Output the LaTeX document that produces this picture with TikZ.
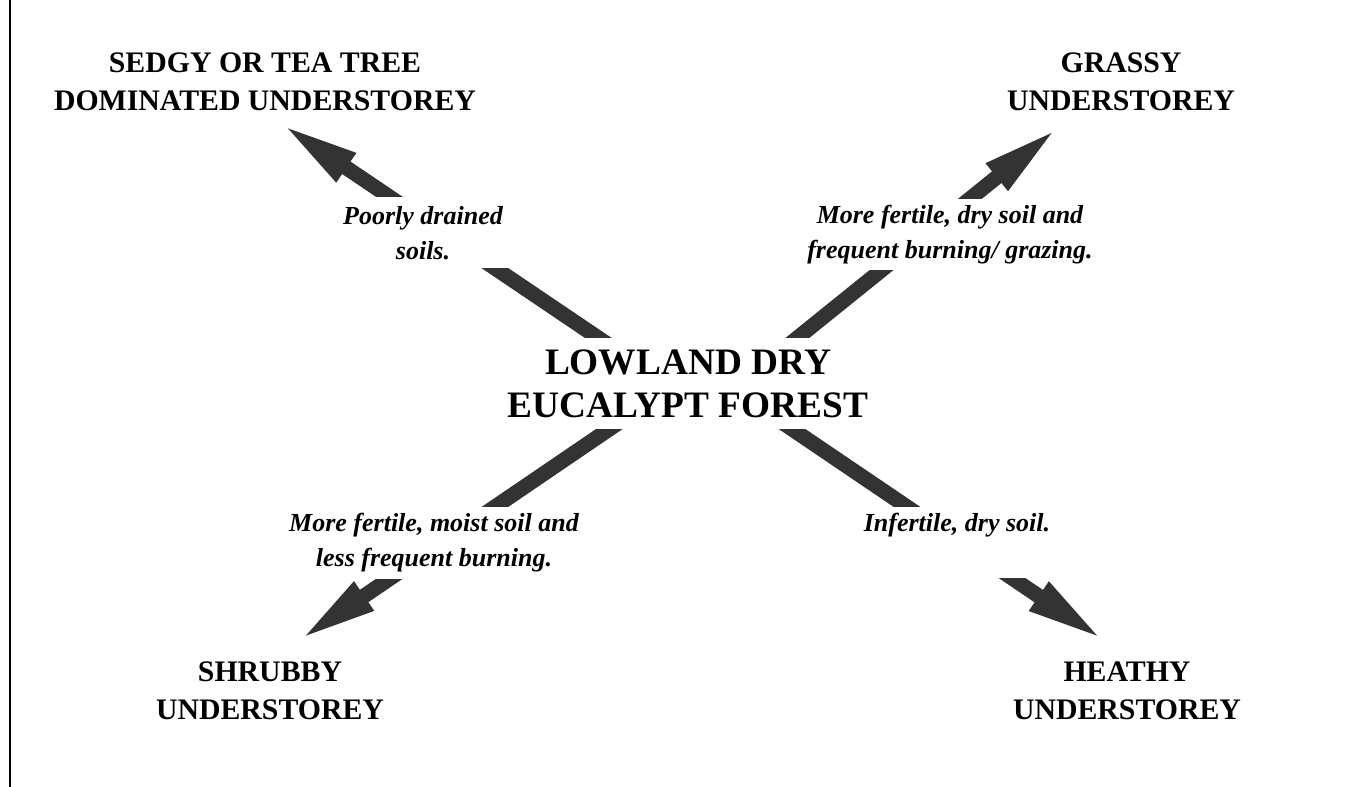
\documentclass[tikz,border=0pt]{standalone}
\usepackage{fontspec}
\setmainfont{Liberation Serif}
\usetikzlibrary{arrows.meta}
\definecolor{arrowgrey}{HTML}{333333}
\tikzset{
  bigarrow/.style={draw=arrowgrey, line width=11.25pt,
    -{Triangle[length=60pt,width=23pt]}},
  heading/.style={font=\fontsize{22.35}{28.5}\selectfont\bfseries,
    align=center, inner sep=0pt},
  forest/.style={font=\fontsize{28}{32.25}\selectfont\bfseries,
    align=center, fill=white, inner xsep=6pt, inner ysep=0pt,
    minimum height=68.25pt},
  cause/.style={font=\fontsize{19.5}{26.25}\selectfont\bfseries\itshape,
    align=center, fill=white, inner xsep=12pt, inner ysep=0pt,
    minimum height=53.25pt}
}
\begin{document}
\begin{tikzpicture}[x=0.75pt,y=-0.75pt]
    \useasboundingbox (0,0) rectangle (1360,787);
    \draw[line width=1.5pt] (9.5,0) -- (9.5,787); % page edge
    % arrow ends, the start points sit under the centre box
    \coordinate (sedgy-from)   at (668,385);
    \coordinate (sedgy-tip)    at (280,123);
    \coordinate (grassy-from)  at (739,385);
    \coordinate (grassy-tip)   at (1059,127);
    \coordinate (shrubby-from) at (674,385);
    \coordinate (shrubby-tip)  at (298,641);
    \coordinate (heathy-from)  at (727,385);
    \coordinate (heathy-tip)   at (1105,641);
    \foreach \n in {sedgy,grassy,shrubby,heathy} {
        \draw[bigarrow] (\n-from) -- (\n-tip);
    }
    % boxes cut the arrows
    \node[forest] (forest) at (688,384) {LOWLAND DRY\\EUCALYPT FOREST};
    \node[cause] (drained) at (423,233) {Poorly drained\\soils.};
    \node[cause] (dry) at (950,235) {More fertile, dry soil and\\frequent burning/ grazing.};
    \node[cause] (moist) at (434,543) {More fertile, moist soil and\\less frequent burning.};
    \node[cause, anchor=base, text height=18.75pt, text depth=34.5pt] (infertile)
        at (957,532) {Infertile, dry soil.};
    % understorey types
    \node[heading] (sedgy)   at (265,82)   {SEDGY OR TEA TREE\\DOMINATED UNDERSTOREY};
    \node[heading] (grassy)  at (1121,82)  {GRASSY\\UNDERSTOREY};
    \node[heading] (shrubby) at (270,691)  {SHRUBBY\\UNDERSTOREY};
    \node[heading] (heathy)  at (1127,691) {HEATHY\\UNDERSTOREY};
\end{tikzpicture}
\end{document}
